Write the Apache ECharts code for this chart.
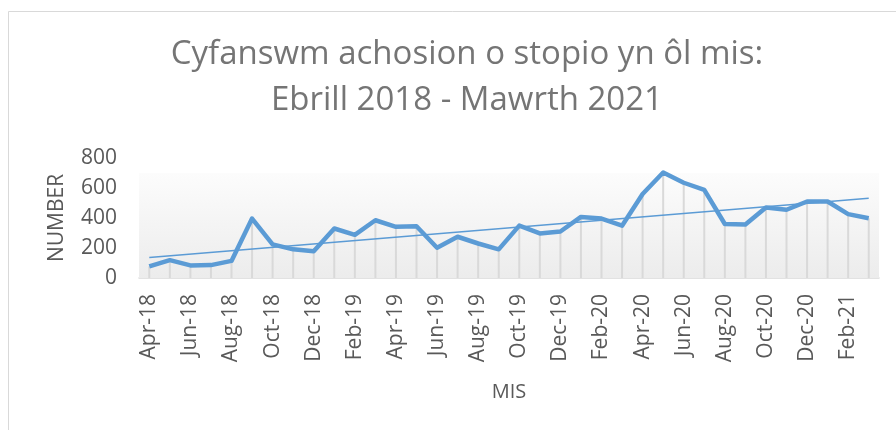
<!doctype html>
<html>
<head>
<meta charset="UTF-8">
<title>Cyfanswm achosion o stopio</title>
<script src="https://cdn.jsdelivr.net/npm/echarts@6/dist/echarts.min.js"></script>
<style>
  html, body { margin: 0; padding: 0; background: #fff; }
  #main { width: 896px; height: 430px; }
</style>
</head>
<body>
<div id="main"></div>
<script>
// misoedd Ebrill 2018 - Mawrth 2021
var months = ['Apr-18','May-18','Jun-18','Jul-18','Aug-18','Sep-18','Oct-18','Nov-18','Dec-18',
  'Jan-19','Feb-19','Mar-19','Apr-19','May-19','Jun-19','Jul-19','Aug-19','Sep-19','Oct-19','Nov-19','Dec-19',
  'Jan-20','Feb-20','Mar-20','Apr-20','May-20','Jun-20','Jul-20','Aug-20','Sep-20','Oct-20','Nov-20','Dec-20',
  'Jan-21','Feb-21','Mar-21'];
// nifer yr achosion (wedi'u darllen o'r llun)
var stops = [77,119,84,86,114,396,224,191,178,
  330,288,385,341,345,202,275,230,191,349,297,310,
  407,396,349,560,703,635,587,360,356,470,455,510,
  510,426,398];
// llinell duedd: gwerth dechrau a diwedd
var trendStart = 136;
var trendEnd = 532;
var yTicks = [0,200,400,600,800];

var trend = months.map(function(m, i){
  if (i === 0) return trendStart;
  if (i === months.length - 1) return trendEnd;
  return null;
});

var myChart = echarts.init(document.getElementById('main'));
var font = '"Open Sans", sans-serif';
var option = {
  animation: false,
  backgroundColor: '#fff',
  title: {
    text: 'Cyfanswm achosion o stopio yn ôl mis:\nEbrill 2018 - Mawrth 2021',
    left: 462,
    top: 27,
    textAlign: 'center',
    textStyle: { fontFamily: font, fontSize: 33, fontWeight: 'normal', color: '#757575', lineHeight: 46 }
  },
  graphic: [{
    type: 'rect', silent: true, z: -1,
    shape: { x: 8.5, y: 11.5, width: 900, height: 500 },
    style: { fill: 'none', stroke: '#d9d9d9', lineWidth: 1 }
  }],
  grid: { left: 139, right: 17, top: 158, bottom: 152 },
  xAxis: {
    type: 'category',
    data: months,
    boundaryGap: true,
    name: 'MIS',
    nameLocation: 'middle',
    nameGap: 104,
    nameTextStyle: { fontFamily: font, fontSize: 20, color: '#595959' },
    axisLine: { lineStyle: { color: '#d9d9d9', width: 1.5 } },
    axisTick: { interval: 1, length: 8, lineStyle: { color: '#d9d9d9', width: 1.5 } },
    axisLabel: { interval: 1, rotate: 90, margin: 16, fontFamily: font, fontSize: 21, color: '#595959' }
  },
  yAxis: {
    type: 'value',
    min: yTicks[0],
    max: yTicks[yTicks.length - 1],
    interval: 200,
    name: 'NUMBER',
    nameLocation: 'middle',
    nameGap: 71,
    nameTextStyle: { fontFamily: font, fontSize: 21, color: '#595959' },
    axisLine: { show: false },
    axisTick: { show: false },
    splitLine: { show: false },
    axisLabel: { margin: 22, fontFamily: font, fontSize: 21, color: '#595959' }
  },
  series: [
    {
      // llinellau fertigol i lawr at yr echel
      type: 'bar',
      data: stops,
      barWidth: 2,
      itemStyle: { color: '#d9d9d9' },
      silent: true,
      z: 1,
      markArea: {
        silent: true,
        itemStyle: {
          color: new echarts.graphic.LinearGradient(0, 0, 0, 1, [
            { offset: 0, color: '#fcfcfc' },
            { offset: 1, color: '#ececec' }
          ])
        },
        data: [[{ yAxis: 700 }, { yAxis: 0 }]]
      }
    },
    {
      type: 'line',
      data: stops,
      symbol: 'none',
      z: 3,
      lineStyle: { color: '#5b9bd5', width: 4.5, join: 'round' }
    },
    {
      type: 'line',
      data: trend,
      connectNulls: true,
      symbol: 'none',
      z: 4,
      lineStyle: { color: '#5b9bd5', width: 1.5 }
    }
  ]
};
myChart.setOption(option);
</script>
</body>
</html>
